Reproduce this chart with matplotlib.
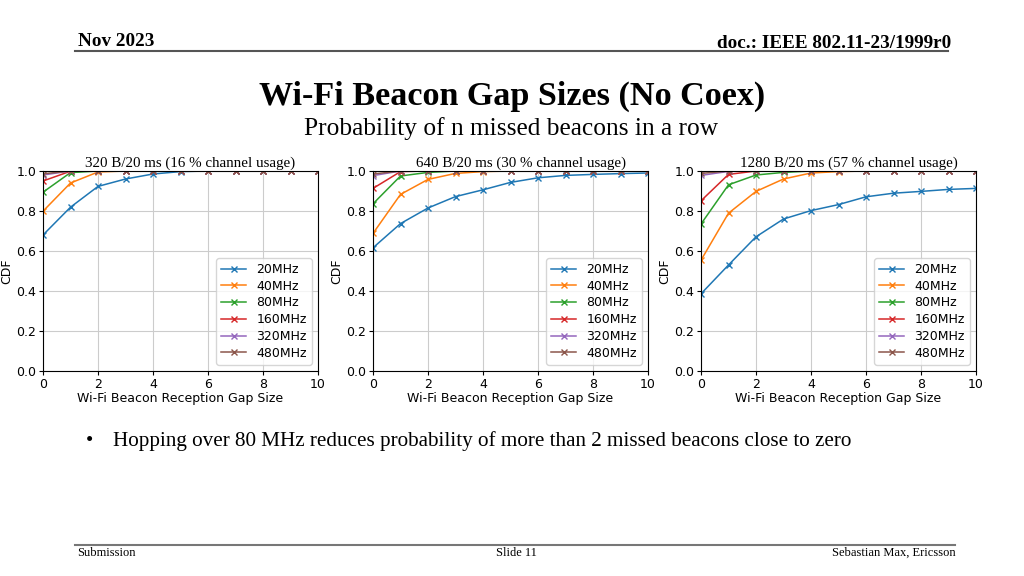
import matplotlib
matplotlib.use("Agg")
import matplotlib.pyplot as plt
from matplotlib.lines import Line2D

gap_sizes = [0, 1, 2, 3, 4, 5, 6, 7, 8, 9, 10]
bandwidths = ["20MHz", "40MHz", "80MHz", "160MHz", "320MHz", "480MHz"]

# 320 B/20 ms (16 % channel usage)
cdf_16_20 = [0.680, 0.819, 0.923, 0.960, 0.985, 0.997, 1.0, 1.0, 1.0, 1.0, 1.0]
cdf_16_40 = [0.799, 0.940, 0.995, 1.0, 1.0, 1.0, 1.0, 1.0, 1.0, 1.0, 1.0]
cdf_16_80 = [0.894, 0.992, 1.0, 1.0, 1.0, 1.0, 1.0, 1.0, 1.0, 1.0, 1.0]
cdf_16_160 = [0.950, 0.999, 1.0, 1.0, 1.0, 1.0, 1.0, 1.0, 1.0, 1.0, 1.0]
cdf_16_320 = [0.980, 1.0, 1.0, 1.0, 1.0, 1.0, 1.0, 1.0, 1.0, 1.0, 1.0]
cdf_16_480 = [0.986, 1.0, 1.0, 1.0, 1.0, 1.0, 1.0, 1.0, 1.0, 1.0, 1.0]

# 640 B/20 ms (30 % channel usage)
cdf_30_20 = [0.616, 0.737, 0.815, 0.872, 0.906, 0.943, 0.966, 0.978, 0.983, 0.987, 0.990]
cdf_30_40 = [0.688, 0.883, 0.958, 0.988, 0.997, 1.0, 1.0, 1.0, 1.0, 1.0, 1.0]
cdf_30_80 = [0.836, 0.975, 0.993, 1.0, 1.0, 1.0, 1.0, 1.0, 1.0, 1.0, 1.0]
cdf_30_160 = [0.913, 0.997, 1.0, 1.0, 1.0, 1.0, 1.0, 1.0, 1.0, 1.0, 1.0]
cdf_30_320 = [0.977, 1.0, 1.0, 1.0, 1.0, 1.0, 1.0, 1.0, 1.0, 1.0, 1.0]
cdf_30_480 = [0.985, 1.0, 1.0, 1.0, 1.0, 1.0, 1.0, 1.0, 1.0, 1.0, 1.0]

# 1280 B/20 ms (57 % channel usage)
cdf_57_20 = [0.386, 0.530, 0.671, 0.760, 0.802, 0.832, 0.871, 0.889, 0.898, 0.908, 0.913]
cdf_57_40 = [0.554, 0.789, 0.898, 0.960, 0.990, 0.997, 1.0, 1.0, 1.0, 1.0, 1.0]
cdf_57_80 = [0.735, 0.931, 0.980, 0.993, 1.0, 1.0, 1.0, 1.0, 1.0, 1.0, 1.0]
cdf_57_160 = [0.851, 0.983, 1.0, 1.0, 1.0, 1.0, 1.0, 1.0, 1.0, 1.0, 1.0]
cdf_57_320 = [0.978, 0.998, 1.0, 1.0, 1.0, 1.0, 1.0, 1.0, 1.0, 1.0, 1.0]
cdf_57_480 = [0.988, 1.0, 1.0, 1.0, 1.0, 1.0, 1.0, 1.0, 1.0, 1.0, 1.0]

panel_titles = ["320 B/20 ms (16 % channel usage)",
                "640 B/20 ms (30 % channel usage)",
                "1280 B/20 ms (57 % channel usage)"]
panels = [
    [cdf_16_20, cdf_16_40, cdf_16_80, cdf_16_160, cdf_16_320, cdf_16_480],
    [cdf_30_20, cdf_30_40, cdf_30_80, cdf_30_160, cdf_30_320, cdf_30_480],
    [cdf_57_20, cdf_57_40, cdf_57_80, cdf_57_160, cdf_57_320, cdf_57_480],
]

colors = ["#1f77b4", "#ff7f0e", "#2ca02c", "#d62728", "#9467bd", "#8c564b"]
serif = ["Liberation Serif", "DejaVu Serif"]

W, H = 1024, 576
fig = plt.figure(figsize=(W / 100, H / 100), dpi=100)
fig.patch.set_facecolor("white")

# header
fig.text(78 / W, 1 - 46 / H, "Nov 2023", family=serif, fontweight="bold", fontsize=13.8,
         ha="left", va="baseline")
fig.text(951 / W, 1 - 48 / H, "doc.: IEEE 802.11-23/1999r0", family=serif, fontweight="bold",
         fontsize=13.8, ha="right", va="baseline")
fig.add_artist(Line2D([75 / W, 948 / W], [1 - 51 / H, 1 - 51 / H], color="#555555", lw=1.5))

fig.text(512 / W, 1 - 105 / H, "Wi-Fi Beacon Gap Sizes (No Coex)", family=serif,
         fontweight="bold", fontsize=24.6, ha="center", va="baseline")
fig.text(511 / W, 1 - 135 / H, "Probability of n missed beacons in a row", family=serif,
         fontsize=18.3, ha="center", va="baseline")

# axes
lefts = [43, 373, 701]
for i, (left, title, series) in enumerate(zip(lefts, panel_titles, panels)):
    ax = fig.add_axes([left / W, 1 - 371 / H, 275 / W, 200 / H])
    for name, vals, c in zip(bandwidths, series, colors):
        ax.plot(gap_sizes, vals, marker="x", markersize=4, lw=1.1, color=c, label=name,
                markeredgewidth=1.0)
    ax.set_xlim(0, 10)
    ax.set_ylim(0, 1.0)
    ax.set_xticks([0, 2, 4, 6, 8, 10])
    ax.set_yticks([0.0, 0.2, 0.4, 0.6, 0.8, 1.0])
    ax.grid(True, color="#cccccc", lw=0.8)
    ax.tick_params(labelsize=9, length=3, pad=2)
    ax.set_xlabel("Wi-Fi Beacon Reception Gap Size", fontsize=9, labelpad=1)
    ax.set_ylabel("CDF", fontsize=9, labelpad=2)
    ax.text(0.5 + 10 / 275, 1.0 + 4 / 200, title, transform=ax.transAxes, family=serif,
            fontsize=10.8, ha="center", va="baseline")
    ax.legend(loc="lower right", fontsize=9, handlelength=2.0, labelspacing=0.3,
              borderaxespad=0.5, framealpha=0.8)

# bullet text
fig.text(86 / W, 1 - 446 / H, "\u2022", family=serif, fontsize=15, ha="left", va="baseline")
fig.text(113 / W, 1 - 446 / H,
         "Hopping over 80 MHz reduces probability of more than 2 missed beacons close to zero",
         family=serif, fontsize=15.2, ha="left", va="baseline")

# footer
fig.add_artist(Line2D([75 / W, 955 / W], [1 - 545 / H, 1 - 545 / H], color="#777777", lw=1.5))
fig.text(77 / W, 1 - 556 / H, "Submission", family=serif, fontsize=9, ha="left", va="baseline")
fig.text(516 / W, 1 - 556 / H, "Slide 11", family=serif, fontsize=9, ha="center", va="baseline")
fig.text(956 / W, 1 - 556 / H, "Sebastian Max, Ericsson", family=serif, fontsize=9,
         ha="right", va="baseline")

fig.savefig("out.png", dpi=100)
